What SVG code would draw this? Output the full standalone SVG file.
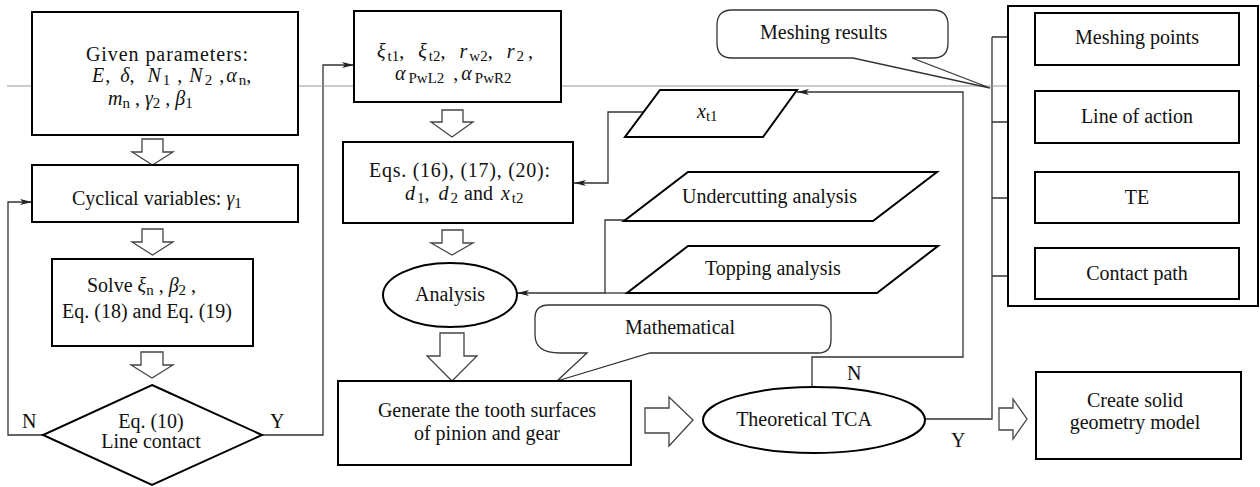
<svg xmlns="http://www.w3.org/2000/svg" width="1260" height="487" viewBox="0 0 1260 487">
<defs>
<style>
.box{fill:#fff;stroke:#000;stroke-width:2}
.t{font-family:"Liberation Serif","Times New Roman",serif;font-size:20px;fill:#111}
.i{font-style:italic}
.s{font-size:15px}
.conn{fill:none;stroke:#333;stroke-width:1.3}
.hol{fill:#fff;stroke:#444;stroke-width:1.3}
.call{fill:#fff;stroke:#333;stroke-width:1.3}
</style>
<marker id="ah" markerWidth="12" markerHeight="6" refX="12" refY="3" orient="auto" markerUnits="userSpaceOnUse">
<path d="M0,0 L12,3 L0,6 L3,3 Z" fill="#222"/>
</marker>
</defs>
<rect width="1260" height="487" fill="#fff"/>

<g id="connectors">
<path class="conn" d="M43,435 H8 V202 H32" marker-end="url(#ah)"/>
<path class="conn" d="M262,435 H323 V65 H354" marker-end="url(#ah)"/>
<path class="conn" d="M644,112 H608 V183 H574" marker-end="url(#ah)"/>
<path class="conn" d="M625,220 H605 V293 H517" marker-end="url(#ah)"/>
<path class="conn" d="M627,293 H605"/>
<path class="conn" d="M812,387 V357 H963 V92 H797" marker-end="url(#ah)"/>
<path class="conn" d="M925,419 H992 V37"/>
<path class="conn" d="M992,37 H1035" marker-end="url(#ah)"/>
<path class="conn" d="M992,122 H1035" marker-end="url(#ah)"/>
<path class="conn" d="M992,198 H1035" marker-end="url(#ah)"/>
<path class="conn" d="M992,276 H1035" marker-end="url(#ah)"/>
<polygon class="hol" points="142,139 163,139 163,152 173,152 152.5,165 132,152 142,152"/>
<polygon class="hol" points="142,229 163,229 163,242 173,242 152.5,255 132,242 142,242"/>
<polygon class="hol" points="141,352 163,352 163,365 173,365 152,378 131,365 141,365"/>
<polygon class="hol" points="442,110 463,110 463,122 473,122 452,137 431,122 442,122"/>
<polygon class="hol" points="442,230 463,230 463,243 473,243 452,255 431,243 442,243"/>
<polygon class="hol" points="440,333 464,333 464,356 477,356 452,381 427,356 440,356"/>
<polygon class="hol" points="645,408 669,408 669,397 693,420 669,446 669,433 645,433"/>
<polygon class="hol" points="999,408 1013,408 1013,399 1027,419 1013,439 1013,430 999,430"/>
</g>

<line x1="7" y1="86" x2="1260" y2="86" stroke="#999" stroke-width="1"/>

<g id="given">
<rect class="box" x="32" y="12" width="266" height="123"/>
<text class="t" x="86" y="61" textLength="162">Given parameters:</text>
<text class="t" x="92" y="82"><tspan class="i">E</tspan><tspan dx="1">, </tspan><tspan class="i" dx="5">δ</tspan><tspan>, </tspan><tspan class="i" dx="8">N</tspan><tspan class="s" dx="2" dy="3">1</tspan><tspan dy="-3" dx="2"> , </tspan><tspan class="i" dx="2">N</tspan><tspan class="s" dx="2" dy="3">2</tspan><tspan dy="-3" dx="2"> ,</tspan><tspan class="i" dx="2">α</tspan><tspan class="s" dx="2" dy="3">n</tspan><tspan dy="-3">,</tspan></text>
<text class="t" x="108" y="105"><tspan class="i">m</tspan><tspan class="s" dy="3">n</tspan><tspan dy="-3"> , </tspan><tspan class="i">γ</tspan><tspan class="s" dy="3">2</tspan><tspan dy="-3"> , </tspan><tspan class="i">β</tspan><tspan class="s" dy="3">1</tspan></text>
</g>

<g id="cyclical">
<rect class="box" x="32" y="165" width="266" height="57"/>
<text class="t" x="72" y="205">Cyclical variables: <tspan class="i">γ</tspan><tspan class="s" dy="3">1</tspan></text>
</g>

<g id="solve">
<rect class="box" x="52" y="259" width="201" height="87"/>
<text class="t" x="87" y="292">Solve  <tspan class="i">ξ</tspan><tspan class="s" dy="3">n</tspan><tspan dy="-3"> , </tspan><tspan class="i">β</tspan><tspan class="s" dy="3">2</tspan><tspan dy="-3"> ,</tspan></text>
<text class="t" x="62" y="318">Eq. (18) and Eq. (19)</text>
</g>

<g id="decision">
<polygon class="box" points="152,385 262,435 152,485 43,435"/>
<text class="t" x="151" y="428" text-anchor="middle">Eq. (10)</text>
<text class="t" x="151" y="448" text-anchor="middle">Line contact</text>
<text class="t" x="22" y="428">N</text>
<text class="t" x="270" y="428">Y</text>
</g>

<g id="params2">
<rect class="box" x="354" y="11" width="207" height="91"/>
<text class="t" x="377" y="58"><tspan class="i">ξ</tspan><tspan class="s" dx="2" dy="3">t1</tspan><tspan dy="-3">, </tspan><tspan class="i" dx="9">ξ</tspan><tspan class="s" dx="2" dy="3">t2</tspan><tspan dy="-3">, </tspan><tspan class="i" dx="9">r</tspan><tspan class="s" dx="2" dy="3">w2</tspan><tspan dy="-3">, </tspan><tspan class="i" dx="9">r</tspan><tspan class="s" dx="2" dy="3">2</tspan><tspan dy="-3" dx="4">,</tspan></text>
<text class="t" x="395" y="80"><tspan class="i">α</tspan><tspan class="s" dx="3" dy="3">PwL2</tspan><tspan dy="-3" dx="4"> ,</tspan><tspan class="i" dx="3">α</tspan><tspan class="s" dx="3" dy="3">PwR2</tspan></text>
</g>

<g id="eqs">
<rect class="box" x="343" y="142" width="230" height="81"/>
<text class="t" x="369" y="177" textLength="181">Eqs. (16), (17), (20):</text>
<text class="t" x="405" y="200"><tspan class="i">d</tspan><tspan class="s" dx="2" dy="3">1</tspan><tspan dy="-3">, </tspan><tspan class="i" dx="4">d</tspan><tspan class="s" dx="2" dy="3">2</tspan><tspan dy="-3" dx="6">and </tspan><tspan class="i" dx="3">x</tspan><tspan class="s" dx="2" dy="3">t2</tspan></text>
</g>

<g id="analysis">
<ellipse class="box" cx="450" cy="295" rx="67" ry="32"/>
<text class="t" x="450" y="301" text-anchor="middle">Analysis</text>
</g>

<g id="xt1">
<polygon class="box" points="660,90 797,90 763,137 625,137"/>
<text class="t" x="697" y="118"><tspan class="i">x</tspan><tspan class="s" dy="3">t1</tspan></text>
</g>

<g id="undercutting">
<polygon class="box" points="688,172 937,172 873,221 624,221"/>
<text class="t" x="682" y="203">Undercutting analysis</text>
</g>

<g id="topping">
<polygon class="box" points="688,246 938,246 877,293 627,293"/>
<text class="t" x="705" y="275">Topping analysis</text>
</g>

<g id="meshing-results">
<path class="call" d="M732,10 H933 Q948,10 948,25 V43 Q948,58 933,58 H912 L990,88 L853,58 H732 Q717,58 717,43 V25 Q717,10 732,10 Z"/>
<text class="t" x="760" y="39">Meshing results</text>
</g>

<g id="mathematical">
<path class="call" d="M549,305 H818 Q831,305 831,318 V340 Q831,353 818,353 H650 L557,381 L587,353 H560 Q535,353 535,335 V318 Q535,305 549,305 Z"/>
<text class="t" x="625" y="334">Mathematical</text>
</g>

<g id="generate">
<rect class="box" x="338" y="381" width="293" height="84"/>
<text class="t" x="487" y="417" text-anchor="middle">Generate the tooth surfaces</text>
<text class="t" x="487" y="440" text-anchor="middle">of pinion and gear</text>
</g>

<g id="tca">
<ellipse class="box" cx="814" cy="420" rx="111" ry="33"/>
<text class="t" x="804" y="426" text-anchor="middle">Theoretical TCA</text>
<text class="t" x="847" y="380">N</text>
<text class="t" x="951" y="447">Y</text>
</g>

<g id="results-group">
<rect class="box" x="1008" y="6" width="250" height="300"/>
</g>
<g id="meshing-points">
<rect class="box" x="1035" y="13" width="204" height="52"/>
<text class="t" x="1137" y="44" text-anchor="middle">Meshing points</text>
</g>
<g id="line-of-action">
<rect class="box" x="1035" y="91" width="204" height="52"/>
<text class="t" x="1137" y="123" text-anchor="middle">Line of action</text>
</g>
<g id="te">
<rect class="box" x="1035" y="172" width="204" height="51"/>
<text class="t" x="1137" y="204" text-anchor="middle">TE</text>
</g>
<g id="contact-path">
<rect class="box" x="1035" y="248" width="204" height="51"/>
<text class="t" x="1137" y="280" text-anchor="middle">Contact path</text>
</g>

<g id="solid-model">
<rect class="box" x="1036" y="372" width="205" height="87"/>
<text class="t" x="1135" y="407" text-anchor="middle">Create solid</text>
<text class="t" x="1135" y="429" text-anchor="middle">geometry model</text>
</g>
</svg>
